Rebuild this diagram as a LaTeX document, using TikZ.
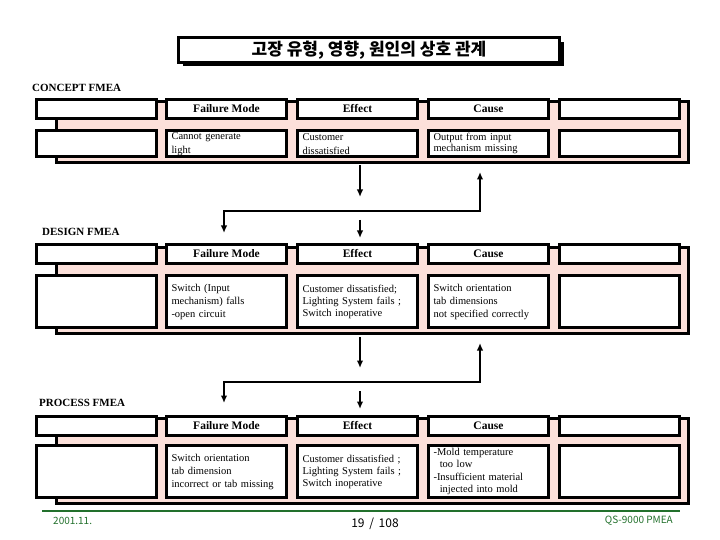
\documentclass[tikz,border=0pt]{standalone}
\usepackage{fontspec}
\setmainfont{Liberation Serif}
\newfontfamily\krfont{Noto Sans CJK KR}
\usetikzlibrary{arrows.meta,calc,shadows}

\definecolor{pinkbg}{RGB}{252,224,218}
\definecolor{footgreen}{RGB}{34,112,44}

\tikzset{
  cell/.style={draw,line width=3pt,fill=white,minimum width=120.5pt,inner sep=0pt},
  headcell/.style={cell,minimum height=19pt,font=\bfseries\fontsize{11.5}{13}\selectfont},
  bodycell/.style={cell,minimum height=#1,text width=110pt,align=left,font=\fontsize{10.5}{13}\selectfont},
  backpanel/.style={draw,line width=3pt,fill=pinkbg},
  fmealabel/.style={anchor=base west,inner sep=0pt,font=\bfseries\fontsize{11}{13}\selectfont},
  flow/.style={line width=1.8pt,-{Latex[length=7.5pt,width=6.5pt]}},
  linkflow/.style={line width=1.8pt,{Latex[length=7.5pt,width=6.5pt]}-{Latex[length=7.5pt,width=6.5pt]}},
  footnote/.style={inner sep=0pt,font=\krfont\fontsize{10}{12}\selectfont,text=footgreen},
}

\begin{document}
\begin{tikzpicture}[x=1pt,y=-1pt]
  \useasboundingbox (0,0) rectangle (720,540);

  % title
  \node[draw,line width=2.5pt,fill=white,minimum width=381pt,minimum height=23.5pt,
    drop shadow={shadow xshift=4.5pt,shadow yshift=-4pt,fill=black,opacity=1},
    font=\krfont\bfseries\fontsize{17}{20}\selectfont] (title) at (369,50) {고장 유형, 영향, 원인의 상호 관계};

  % concept fmea
  \begin{scope}[shift={(0,98)}]
    \node[fmealabel] (clabel) at (32,-6) {CONCEPT FMEA};
    \draw[backpanel] (56.5,4) rectangle (688.5,64.5);

    \node[headcell] (chead1) at (96.5,11) {};
    \node[headcell] (chead2) at (226.5,11) {Failure Mode};
    \node[headcell] (chead3) at (357.5,11) {Effect};
    \node[headcell] (chead4) at (488.5,11) {Cause};
    \node[headcell] (chead5) at (619.5,11) {};

    \node[bodycell=26pt] (cblank) at (96.5,45.5) {};
    \node[bodycell=26pt,font=\fontsize{10.5}{13.5}\selectfont] (cfm) at (226.5,46) {Cannot generate\\light};
    \node[bodycell=26pt,font=\fontsize{10.5}{13.5}\selectfont] (ceff) at (357.5,46) {Customer\\dissatisfied};
    \node[bodycell=26pt,font=\fontsize{10.5}{10.5}\selectfont] (ccause) at (488.5,45.5) {Output from input\\mechanism missing};
    \node[bodycell=26pt] (cnote) at (619.5,45.5) {};
  \end{scope}

  % design fmea
  \begin{scope}[shift={(0,243)}]
    \coordinate (ceff-out) at (360,-78);
    \coordinate (ceff-end) at (360,-46);
    \coordinate (deff-start) at (360,-23);
    \coordinate (deff-in) at (360,-5);
    \coordinate (ccause-in) at (480,-71);
    \coordinate (link1) at (224,-32);
    \coordinate (dfm-in) at (224,-10);

    \node[fmealabel] (dlabel) at (42,-7) {DESIGN FMEA};
    \draw[backpanel] (56.5,4) rectangle (688.5,90);

    \node[headcell] (dhead1) at (96.5,11) {};
    \node[headcell] (dhead2) at (226.5,11) {Failure Mode};
    \node[headcell] (dhead3) at (357.5,11) {Effect};
    \node[headcell] (dhead4) at (488.5,11) {Cause};
    \node[headcell] (dhead5) at (619.5,11) {};

    \node[bodycell=52pt] (dblank) at (96.5,58.5) {};
    \node[bodycell=52pt] (dfm) at (226.5,58.5) {Switch (Input\\mechanism) falls\\-open circuit};
    \node[bodycell=52pt,font=\fontsize{10.5}{12}\selectfont] (deff) at (357.5,58.5) {Customer dissatisfied;\\Lighting System fails ;\\Switch inoperative};
    \node[bodycell=52pt] (dcause) at (488.5,58.5) {Switch orientation\\tab dimensions\\not specified correctly};
    \node[bodycell=52pt] (dnote) at (619.5,58.5) {};
  \end{scope}

  % process fmea
  \begin{scope}[shift={(0,414)}]
    \coordinate (deff-out) at (360,-77);
    \coordinate (deff-end) at (360,-46);
    \coordinate (peff-start) at (360,-23);
    \coordinate (peff-in) at (360,-5);
    \coordinate (dcause-in) at (480,-71);
    \coordinate (link2) at (224,-32);
    \coordinate (pfm-in) at (224,-11);

    \node[fmealabel] (plabel) at (39,-8) {PROCESS FMEA};
    \draw[backpanel] (56.5,4) rectangle (688.5,89.5);

    \node[headcell] (phead1) at (96.5,11.5) {};
    \node[headcell] (phead2) at (226.5,11.5) {Failure Mode};
    \node[headcell] (phead3) at (357.5,11.5) {Effect};
    \node[headcell] (phead4) at (488.5,11.5) {Cause};
    \node[headcell] (phead5) at (619.5,11.5) {};

    \node[bodycell=52pt] (pblank) at (96.5,57.5) {};
    \node[bodycell=52pt] (pfm) at (226.5,57.5) {Switch orientation\\tab dimension\\incorrect or tab missing};
    \node[bodycell=52pt,font=\fontsize{10.5}{12}\selectfont] (peff) at (357.5,57.5) {Customer dissatisfied ;\\Lighting System fails ;\\Switch inoperative};
    \node[bodycell=52pt,font=\fontsize{10.5}{12.5}\selectfont] (pcause) at (488.5,57.5) {-Mold temperature\\\hspace*{0.6em}too low\\-Insufficient material\\\hspace*{0.6em}injected into mold};
    \node[bodycell=52pt] (pnote) at (619.5,57.5) {};
  \end{scope}

  % links between the three levels
  \draw[flow] (ceff-out) -- (ceff-end);
  \draw[flow] (deff-start) -- (deff-in);
  \draw[linkflow] (ccause-in) |- (link1) -- (dfm-in);

  \draw[flow] (deff-out) -- (deff-end);
  \draw[flow] (peff-start) -- (peff-in);
  \draw[linkflow] (dcause-in) |- (link2) -- (pfm-in);

  % footer
  \coordinate (footl) at (42,511);
  \coordinate (footr) at (680,511);
  \draw[footgreen,line width=2pt] (footl) -- (footr);
  \node[footnote,anchor=west] (date) at (53,521) {2001.11.};
  \node[inner sep=0pt,font=\krfont\fontsize{12}{14}\selectfont] (page) at (375,524) {19 \,/\, 108};
  \node[footnote,anchor=east] (docid) at (673,521) {QS-9000 PMEA};
\end{tikzpicture}
\end{document}
